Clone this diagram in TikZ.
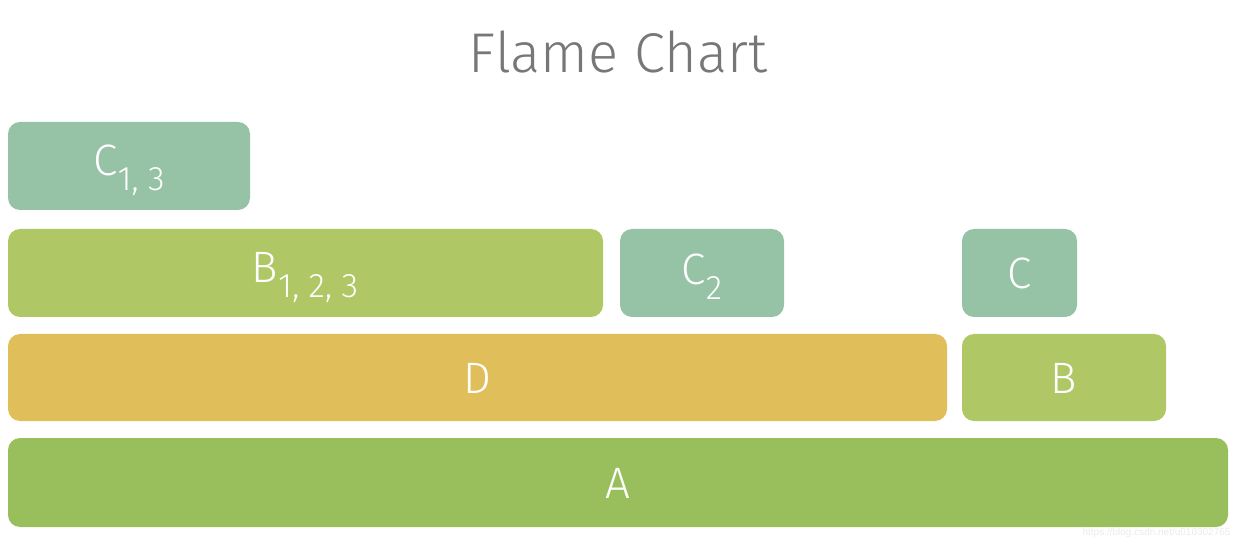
\documentclass[tikz,border=0pt]{standalone}
\usepackage{fontspec}
\setmainfont{Fira Sans Light}
\newfontfamily\wmfont{Liberation Sans}
\definecolor{cgreen}{HTML}{96C2A5}
\definecolor{bgreen}{HTML}{AFC764}
\definecolor{dyellow}{HTML}{E0BE5A}
\definecolor{agreen}{HTML}{98BF5B}
\definecolor{titlegray}{HTML}{777777}
\tikzset{
  frame/.style={rounded corners=12pt, inner sep=0pt, text=white, font=\fontsize{44}{48}\selectfont},
}
\newcommand{\sbs}[1]{\raisebox{-15pt}{\fontsize{34}{36}\selectfont #1}}
\begin{document}
\begin{tikzpicture}[x=1pt,y=-1pt]
\useasboundingbox (0,0) rectangle (1240,545);
\node[text=titlegray, font=\fontsize{56}{60}\selectfont] (title) at (618,52) {Flame Chart};
\fill[cgreen, rounded corners=12pt] (8,122) rectangle (250,210);
\node[frame] (c13) at (129,170) {C\sbs{1, 3}};
\fill[bgreen, rounded corners=12pt] (8,229) rectangle (603,317);
\node[frame] (b123) at (305,277) {B\sbs{1, 2, 3}};
\fill[cgreen, rounded corners=12pt] (620,229) rectangle (784,317);
\node[frame] (c2) at (702,277) {C\sbs{2}};
\fill[cgreen, rounded corners=12pt] (962,229) rectangle (1077,317);
\node[frame] (c) at (1019.5,273) {C};
\fill[dyellow, rounded corners=12pt] (8,334) rectangle (947,421);
\node[frame] (d) at (477.5,378) {D};
\fill[bgreen, rounded corners=12pt] (962,334) rectangle (1166,421);
\node[frame] (b) at (1064,378) {B};
\fill[agreen, rounded corners=12pt] (8,438) rectangle (1228,527);
\node[frame] (a) at (618,483) {A};
\node[text=black!8, font=\wmfont\fontsize{10}{12}\selectfont, anchor=east] (wm) at (1234,533) {https://blog.csdn.net/u010302765};
\end{tikzpicture}
\end{document}
